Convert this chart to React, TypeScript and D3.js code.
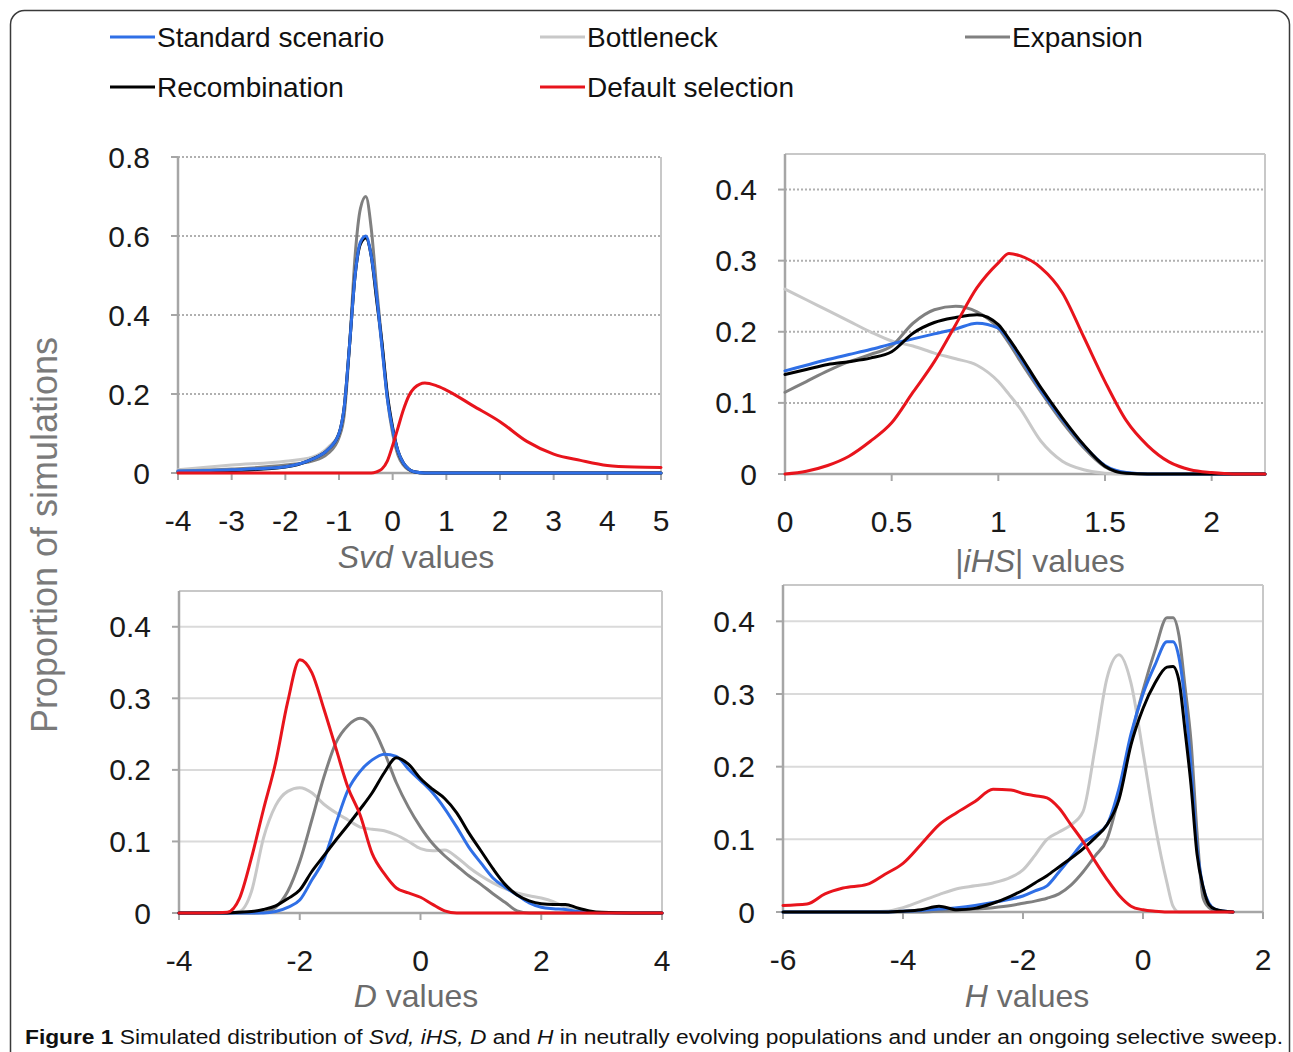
import React from "react";
import * as d3 from "d3";

// ---------- DATA ----------
const seriesNames = ["Standard scenario", "Bottleneck", "Expansion", "Recombination", "Default selection"];
const seriesColors = ["#2f6fe6", "#c8c8c8", "#808080", "#000000", "#e8141c"];

// Panel 1: Svd
const svdX = [-4, -3, -2, -1.5, -1.2, -1, -0.9, -0.8, -0.7, -0.6, -0.5, -0.4, -0.3, -0.2, -0.1, 0, 0.1, 0.2, 0.3, 0.4, 0.6, 0.8, 1, 1.5, 2, 2.5, 3, 3.5, 4, 4.5, 5];
const svdStandard = [0.005, 0.008, 0.016, 0.035, 0.06, 0.1, 0.17, 0.33, 0.5, 0.585, 0.6, 0.55, 0.45, 0.32, 0.19, 0.11, 0.055, 0.025, 0.01, 0.003, 0, 0, 0, 0, 0, 0, 0, 0, 0, 0, 0];
const svdBottleneck = [0.008, 0.02, 0.03, 0.04, 0.065, 0.1, 0.17, 0.33, 0.5, 0.58, 0.595, 0.55, 0.44, 0.32, 0.19, 0.11, 0.055, 0.025, 0.01, 0.003, 0, 0, 0, 0, 0, 0, 0, 0, 0, 0, 0];
const svdExpansion = [0.005, 0.01, 0.02, 0.03, 0.05, 0.09, 0.15, 0.33, 0.55, 0.67, 0.7, 0.62, 0.47, 0.33, 0.19, 0.1, 0.045, 0.02, 0.008, 0.002, 0, 0, 0, 0, 0, 0, 0, 0, 0, 0, 0];
const svdRecombination = [0.003, 0.006, 0.015, 0.035, 0.06, 0.1, 0.17, 0.33, 0.5, 0.58, 0.595, 0.55, 0.44, 0.33, 0.2, 0.115, 0.055, 0.025, 0.01, 0.003, 0, 0, 0, 0, 0, 0, 0, 0, 0, 0, 0];
const svdSelection = [0, 0, 0, 0, 0, 0, 0, 0, 0, 0, 0, 0, 0.003, 0.01, 0.03, 0.07, 0.115, 0.16, 0.195, 0.215, 0.228, 0.222, 0.21, 0.17, 0.13, 0.08, 0.048, 0.032, 0.019, 0.015, 0.014];

// Panel 2: |iHS|
const ihsX = [0, 0.1, 0.2, 0.3, 0.4, 0.5, 0.6, 0.7, 0.8, 0.9, 1.0, 1.05, 1.1, 1.2, 1.3, 1.4, 1.5, 1.6, 1.7, 1.8, 1.9, 2.0, 2.1, 2.25];
const ihsStandard = [0.145, 0.153, 0.161, 0.168, 0.175, 0.183, 0.19, 0.197, 0.204, 0.212, 0.205, 0.188, 0.165, 0.118, 0.077, 0.04, 0.012, 0.002, 0, 0, 0, 0, 0, 0];
const ihsBottleneck = [0.26, 0.245, 0.23, 0.215, 0.2, 0.187, 0.18, 0.17, 0.162, 0.153, 0.13, 0.112, 0.093, 0.046, 0.018, 0.006, 0.001, 0, 0, 0, 0, 0, 0, 0];
const ihsExpansion = [0.115, 0.13, 0.145, 0.158, 0.168, 0.18, 0.212, 0.231, 0.236, 0.228, 0.205, 0.184, 0.16, 0.115, 0.073, 0.037, 0.01, 0.001, 0, 0, 0, 0, 0, 0];
const ihsRecombination = [0.14, 0.147, 0.154, 0.158, 0.163, 0.172, 0.198, 0.213, 0.22, 0.224, 0.21, 0.19, 0.168, 0.121, 0.079, 0.041, 0.011, 0.001, 0, 0, 0, 0, 0, 0];
const ihsSelection = [0, 0.004, 0.012, 0.025, 0.046, 0.072, 0.115, 0.158, 0.21, 0.262, 0.297, 0.31, 0.307, 0.29, 0.255, 0.193, 0.13, 0.075, 0.04, 0.017, 0.006, 0.002, 0, 0];

// Panel 3: D
const dX = [-4, -3.5, -3.2, -3.0, -2.8, -2.6, -2.4, -2.2, -2.0, -1.8, -1.6, -1.4, -1.2, -1.0, -0.8, -0.6, -0.4, -0.2, 0, 0.2, 0.4, 0.6, 0.8, 1.0, 1.2, 1.4, 1.6, 1.8, 2.0, 2.2, 2.4, 2.6, 2.8, 3.0, 3.5, 4];
const dStandard = [0, 0, 0, 0, 0, 0, 0.002, 0.008, 0.018, 0.046, 0.075, 0.125, 0.172, 0.198, 0.214, 0.222, 0.219, 0.201, 0.185, 0.168, 0.146, 0.12, 0.092, 0.07, 0.049, 0.036, 0.025, 0.014, 0.008, 0.006, 0.005, 0.002, 0.001, 0, 0, 0];
const dBottleneck = [0, 0, 0, 0.002, 0.03, 0.105, 0.15, 0.17, 0.175, 0.168, 0.152, 0.14, 0.13, 0.12, 0.117, 0.115, 0.109, 0.1, 0.09, 0.087, 0.088, 0.078, 0.064, 0.052, 0.042, 0.034, 0.028, 0.024, 0.021, 0.016, 0.008, 0.003, 0.001, 0, 0, 0];
const dExpansion = [0, 0, 0, 0, 0, 0.001, 0.008, 0.03, 0.072, 0.13, 0.19, 0.238, 0.262, 0.272, 0.26, 0.225, 0.182, 0.148, 0.12, 0.097, 0.08, 0.066, 0.052, 0.04, 0.027, 0.015, 0.003, 0, 0, 0, 0, 0, 0, 0, 0, 0];
const dRecombination = [0, 0, 0, 0.001, 0.002, 0.005, 0.01, 0.02, 0.032, 0.058, 0.08, 0.102, 0.123, 0.145, 0.168, 0.196, 0.217, 0.208, 0.188, 0.173, 0.16, 0.14, 0.112, 0.087, 0.062, 0.04, 0.025, 0.017, 0.013, 0.012, 0.012, 0.007, 0.003, 0.001, 0, 0];
const dSelection = [0, 0, 0.001, 0.02, 0.077, 0.145, 0.21, 0.295, 0.354, 0.336, 0.285, 0.23, 0.175, 0.137, 0.083, 0.055, 0.035, 0.028, 0.022, 0.012, 0.003, 0, 0, 0, 0, 0, 0, 0, 0, 0, 0, 0, 0, 0, 0, 0];

// Panel 4: H
const hX = [-6, -5.6, -5.3, -5.0, -4.6, -4.3, -4.0, -3.7, -3.4, -3.1, -2.8, -2.5, -2.2, -2.0, -1.8, -1.6, -1.4, -1.2, -1.0, -0.8, -0.6, -0.4, -0.2, 0, 0.2, 0.4, 0.5, 0.6, 0.7, 0.8, 0.9, 1.0, 1.1, 1.2, 1.5];
const hStandard = [0, 0, 0, 0, 0, 0, 0.001, 0.002, 0.004, 0.006, 0.009, 0.013, 0.018, 0.022, 0.029, 0.036, 0.055, 0.075, 0.095, 0.106, 0.12, 0.17, 0.245, 0.3, 0.34, 0.372, 0.372, 0.35, 0.29, 0.2, 0.09, 0.035, 0.012, 0.004, 0];
const hBottleneck = [0, 0, 0, 0, 0, 0.001, 0.006, 0.015, 0.024, 0.032, 0.036, 0.04, 0.048, 0.058, 0.078, 0.1, 0.11, 0.12, 0.138, 0.225, 0.322, 0.354, 0.315, 0.22, 0.12, 0.04, 0.008, 0, 0, 0, 0, 0, 0, 0, 0];
const hExpansion = [0, 0, 0, 0, 0, 0, 0, 0, 0.001, 0.002, 0.004, 0.006, 0.009, 0.012, 0.015, 0.019, 0.025, 0.037, 0.055, 0.077, 0.1, 0.16, 0.24, 0.305, 0.36, 0.405, 0.405, 0.38, 0.31, 0.235, 0.11, 0.02, 0.006, 0.002, 0];
const hRecombination = [0, 0, 0, 0, 0, 0, 0.001, 0.003, 0.008, 0.003, 0.005, 0.012, 0.022, 0.03, 0.04, 0.05, 0.062, 0.074, 0.087, 0.102, 0.12, 0.155, 0.23, 0.28, 0.315, 0.337, 0.338, 0.318, 0.25, 0.175, 0.08, 0.035, 0.01, 0.004, 0];
const hSelection = [0.009, 0.011, 0.025, 0.033, 0.038, 0.052, 0.067, 0.093, 0.12, 0.137, 0.152, 0.169, 0.168, 0.163, 0.16, 0.157, 0.143, 0.12, 0.097, 0.07, 0.045, 0.023, 0.008, 0.003, 0.001, 0, 0, 0, 0, 0, 0, 0, 0, 0, 0];

const svdTicksX = [-4, -3, -2, -1, 0, 1, 2, 3, 4, 5];
const svdTicksY = [0, 0.2, 0.4, 0.6, 0.8];
const ihsTicksX = [0, 0.5, 1, 1.5, 2];
const ihsTicksY = [0, 0.1, 0.2, 0.3, 0.4];
const dTicksX = [-4, -2, 0, 2, 4];
const dTicksY = [0, 0.1, 0.2, 0.3, 0.4];
const hTicksX = [-6, -4, -2, 0, 2];
const hTicksY = [0, 0.1, 0.2, 0.3, 0.4];

// ---------- LAYOUT ----------
const FONT = "'Liberation Sans', Arial, Helvetica, sans-serif";

type PanelSpec = {
  xs: number[];
  series: number[][];
  order: number[];
  xDomain: [number, number];
  yDomain: [number, number];
  xRange: [number, number];
  yRange: [number, number];
  ticksX: number[];
  ticksY: number[];
  dotted: boolean;
  topLine: boolean;
  title: React.ReactNode;
  titleX: number;
  titleY: number;
  fmtX: (v: number) => string;
};

const fmtNum = (v: number) => (v < 0 ? "-" + String(Math.abs(v)) : String(v));

const panels: PanelSpec[] = [
  {
    xs: svdX,
    series: [svdStandard, svdBottleneck, svdExpansion, svdRecombination, svdSelection],
    order: [1, 2, 3, 0, 4],
    xDomain: [-4, 5],
    yDomain: [0, 0.8],
    xRange: [178, 661],
    yRange: [473, 157],
    ticksX: svdTicksX,
    ticksY: svdTicksY,
    dotted: true,
    topLine: false,
    title: (
      <>
        <tspan fontStyle="italic">Svd</tspan> values
      </>
    ),
    titleX: 416,
    titleY: 568,
    fmtX: fmtNum,
  },
  {
    xs: ihsX,
    series: [ihsStandard, ihsBottleneck, ihsExpansion, ihsRecombination, ihsSelection],
    order: [1, 2, 0, 3, 4],
    xDomain: [0, 2.25],
    yDomain: [0, 0.45],
    xRange: [785, 1265],
    yRange: [474, 154],
    ticksX: ihsTicksX,
    ticksY: ihsTicksY,
    dotted: true,
    topLine: true,
    title: (
      <>
        |<tspan fontStyle="italic">iHS</tspan>| values
      </>
    ),
    titleX: 1040,
    titleY: 572,
    fmtX: fmtNum,
  },
  {
    xs: dX,
    series: [dStandard, dBottleneck, dExpansion, dRecombination, dSelection],
    order: [1, 2, 0, 3, 4],
    xDomain: [-4, 4],
    yDomain: [0, 0.45],
    xRange: [179, 662],
    yRange: [913, 591],
    ticksX: dTicksX,
    ticksY: dTicksY,
    dotted: false,
    topLine: true,
    title: (
      <>
        <tspan fontStyle="italic">D</tspan> values
      </>
    ),
    titleX: 416,
    titleY: 1007,
    fmtX: fmtNum,
  },
  {
    xs: hX,
    series: [hStandard, hBottleneck, hExpansion, hRecombination, hSelection],
    order: [1, 2, 0, 3, 4],
    xDomain: [-6, 2],
    yDomain: [0, 0.45],
    xRange: [783, 1263],
    yRange: [912, 585],
    ticksX: hTicksX,
    ticksY: hTicksY,
    dotted: false,
    topLine: true,
    title: (
      <>
        <tspan fontStyle="italic">H</tspan> values
      </>
    ),
    titleX: 1027,
    titleY: 1007,
    fmtX: fmtNum,
  },
];

function Panel({ p }: { p: PanelSpec }) {
  const x = d3.scaleLinear().domain(p.xDomain).range(p.xRange);
  const y = d3.scaleLinear().domain(p.yDomain).range(p.yRange);
  const line = d3
    .line<number>()
    .x((_, i) => x(p.xs[i]))
    .y((d) => y(d))
    .curve(d3.curveMonotoneX);
  const [x0, x1] = p.xRange;
  const [yb, yt] = p.yRange;
  const axisColor = "#a6a6a6";
  return (
    <g>
      {p.ticksY
        .filter((t) => t > 0)
        .map((t) => (
          <line
            key={"g" + t}
            x1={x0}
            x2={x1}
            y1={y(t)}
            y2={y(t)}
            stroke={p.dotted ? "#b0b0b0" : "#dadada"}
            strokeWidth={2}
            strokeDasharray={p.dotted ? "2,2" : undefined}
          />
        ))}
      {p.topLine && <line x1={x0} x2={x1} y1={yt} y2={yt} stroke="#c8c8c8" strokeWidth={2} />}
      <line x1={x1} x2={x1} y1={yt} y2={yb} stroke="#c8c8c8" strokeWidth={2} />
      <line x1={x0} x2={x0} y1={yt} y2={yb} stroke={axisColor} strokeWidth={2.5} />
      <line x1={x0} x2={x1} y1={yb} y2={yb} stroke={axisColor} strokeWidth={2.5} />
      {p.ticksY.map((t) => (
        <g key={"ty" + t}>
          <line x1={x0 - 7} x2={x0} y1={y(t)} y2={y(t)} stroke={axisColor} strokeWidth={2} />
          <text
            x={x0 - 28}
            y={y(t)}
            textAnchor="end"
            dominantBaseline="central"
            fontFamily={FONT}
            fontSize={30}
            fill="#1a1a1a"
          >
            {String(t)}
          </text>
        </g>
      ))}
      {p.ticksX.map((t) => (
        <g key={"tx" + t}>
          <line x1={x(t)} x2={x(t)} y1={yb} y2={yb + 7} stroke={axisColor} strokeWidth={2} />
          <text
            x={x(t)}
            y={yb + 47}
            textAnchor="middle"
            dominantBaseline="central"
            fontFamily={FONT}
            fontSize={30}
            fill="#1a1a1a"
          >
            {p.fmtX(t)}
          </text>
        </g>
      ))}
      {p.order.map((si) => (
        <path
          key={"s" + si}
          d={line(p.series[si]) || ""}
          fill="none"
          stroke={seriesColors[si]}
          strokeWidth={3}
          strokeLinejoin="round"
          strokeLinecap="round"
        />
      ))}
      <text x={p.titleX} y={p.titleY} textAnchor="middle" fontFamily={FONT} fontSize={32} fill="#6b6b6b">
        {p.title}
      </text>
    </g>
  );
}

const legendPos = [
  [110, 37],
  [540, 37],
  [965, 37],
  [110, 87],
  [540, 87],
];
const legendOrder = [0, 1, 2, 3, 4];

export default function App() {
  return (
    <svg
      width={1293}
      height={1052}
      style={{ position: "absolute", left: 0, top: 0, background: "#fff" }}
    >
      <rect x={0} y={0} width={1293} height={1052} fill="#fff" />
      <rect x={10.5} y={10.5} width={1279} height={1080} rx={14} fill="none" stroke="#3a3a3a" strokeWidth={1.5} />
      {legendOrder.map((si, i) => {
        const [lx, ly] = legendPos[i];
        return (
          <g key={"l" + si}>
            <line x1={lx} x2={lx + 45} y1={ly} y2={ly} stroke={seriesColors[si]} strokeWidth={3} />
            <text x={lx + 47} y={ly} dominantBaseline="central" fontFamily={FONT} fontSize={28} fill="#111">
              {seriesNames[si]}
            </text>
          </g>
        );
      })}
      <text
        transform="translate(44,535) rotate(-90)"
        textAnchor="middle"
        dominantBaseline="central"
        fontFamily={FONT}
        fontSize={36}
        fill="#7a7a7a"
      >
        Proportion of simulations
      </text>
      {panels.map((p, i) => (
        <Panel key={i} p={p} />
      ))}
      <text
        x={25}
        y={1044}
        fontFamily={FONT}
        fontSize={20}
        fill="#111"
        textLength={1258}
        lengthAdjust="spacingAndGlyphs"
      >
        <tspan fontWeight="bold">Figure 1</tspan> Simulated distribution of <tspan fontStyle="italic">Svd, iHS, D</tspan>{" "}
        and <tspan fontStyle="italic">H</tspan> in neutrally evolving populations and under an ongoing selective sweep.
      </text>
    </svg>
  );
}
